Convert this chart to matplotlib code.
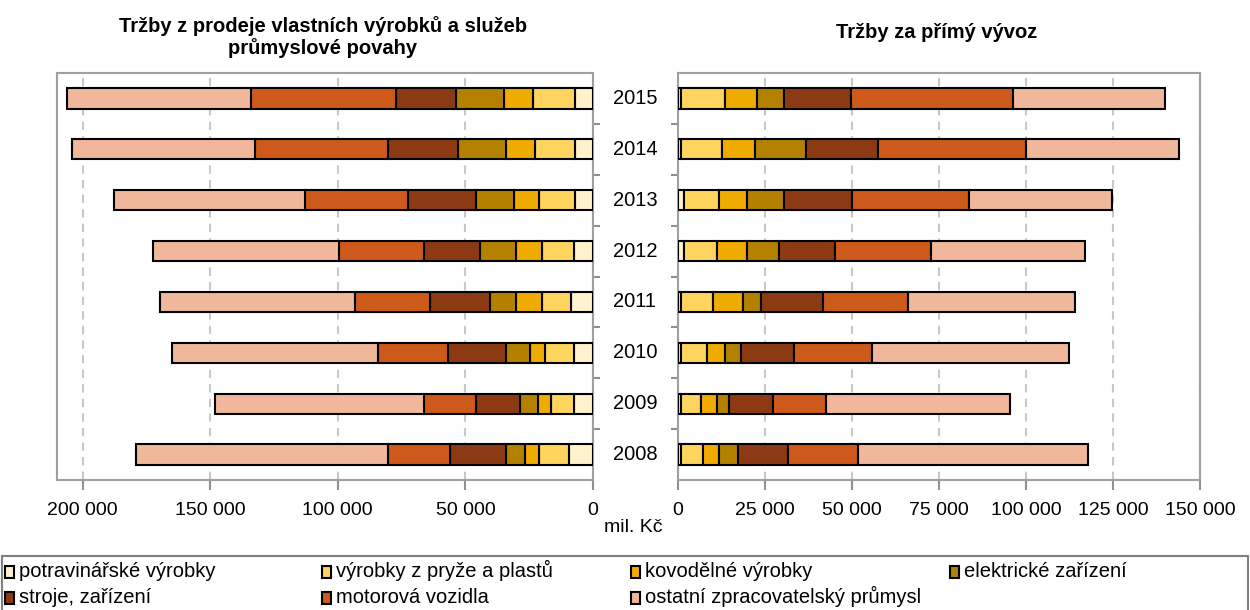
import matplotlib.pyplot as plt
from matplotlib.patches import Rectangle
from matplotlib.ticker import FuncFormatter
from matplotlib.transforms import blended_transform_factory

plt.rcParams['font.family'] = ['Liberation Sans', 'DejaVu Sans']

years = [2008, 2009, 2010, 2011, 2012, 2013, 2014, 2015]

series = ["potravinářské výrobky", "výrobky z pryže a plastů", "kovodělné výrobky",
          "elektrické zařízení", "stroje, zařízení", "motorová vozidla",
          "ostatní zpracovatelský průmysl"]
colors = ["#FFF2CC", "#FFD560", "#F0AB00", "#B38000", "#8B3A14", "#CD5A1A", "#F0B79A"]

# Tržby z prodeje vlastních výrobků a služeb průmyslové povahy (mil. Kč), 2008..2015
sales_food = [9230, 7570, 7570, 8520, 7570, 6860, 6860, 6860]
sales_rubber = [11760, 8720, 11090, 11520, 12470, 14130, 15670, 16490]
sales_metal = [5560, 5410, 6190, 10100, 10100, 9820, 11630, 11650]
sales_elec = [7730, 7060, 9430, 10260, 14120, 15110, 18820, 18650]
sales_mach = [21740, 17160, 22450, 23510, 21860, 26710, 27260, 23400]
sales_cars = [24220, 20200, 27380, 29470, 33490, 40170, 52160, 56750]
sales_other = [98960, 81980, 80990, 76420, 72690, 75000, 71700, 72400]

# Tržby za přímý vývoz (mil. Kč), 2008..2015
exp_food = [960, 960, 960, 960, 1710, 1710, 960, 960]
exp_rubber = [6350, 5770, 7480, 9130, 9630, 10120, 11820, 12490]
exp_metal = [4520, 4610, 5100, 8460, 8460, 7970, 9430, 9220]
exp_elec = [5270, 3360, 4520, 5280, 9130, 10760, 14610, 7890]
exp_mach = [14620, 12490, 15390, 17800, 16060, 19540, 20670, 19040]
exp_cars = [20000, 15400, 22300, 24320, 27690, 33540, 42580, 46650]
exp_other = [66070, 52870, 56730, 48270, 44410, 40960, 43950, 43750]

sales = [sales_food, sales_rubber, sales_metal, sales_elec, sales_mach, sales_cars, sales_other]
exports = [exp_food, exp_rubber, exp_metal, exp_elec, exp_mach, exp_cars, exp_other]

W, H = 1250, 610
fig = plt.figure(figsize=(W / 100, H / 100), dpi=100)
ax1 = fig.add_axes([57 / W, 1 - 480 / H, 536 / W, 407 / H])
ax2 = fig.add_axes([678 / W, 1 - 480 / H, 522 / W, 407 / H])

fmt = FuncFormatter(lambda v, p: f"{int(v):,}".replace(",", " "))
ypos = list(range(len(years)))


def draw(ax, data, xmax, step):
    left = [0] * len(years)
    for vals, c, name in zip(data, colors, series):
        ax.barh(ypos, vals, left=left, height=0.4, color=c, edgecolor="black",
                linewidth=1.5, label=name, zorder=3)
        left = [a + b for a, b in zip(left, vals)]
    ax.set_ylim(-0.5, len(years) - 0.5)
    ax.set_xticks(range(0, xmax + 1, step))
    ax.xaxis.set_major_formatter(fmt)
    ax.grid(axis="x", color="#C8C8C8", linestyle=(0, (4, 3)), linewidth=1.5, zorder=0)
    ax.set_yticks([i + 0.5 for i in range(len(years) - 1)])
    ax.set_yticklabels([])
    ax.tick_params(axis="both", colors="#909090", width=1.5, length=5, labelsize=14,
                   labelcolor="black")
    ax.tick_params(axis="x", pad=9, length=7)
    for s in ax.spines.values():
        s.set_color("#A0A0A0")
        s.set_linewidth(1.5)


draw(ax1, sales, 200000, 50000)
ax1.set_xlim(210000, 0)
ax1.yaxis.tick_right()

draw(ax2, exports, 150000, 25000)
ax2.set_xlim(0, 150000)

trans = blended_transform_factory(fig.transFigure, ax1.transData)
for i, y in enumerate(years):
    ax1.text(635 / W, i, str(y), transform=trans, ha="center", va="center",
             fontsize=14.5)

fig.text(323 / W, 1 - 37 / H, "Tržby z prodeje vlastních výrobků a služeb\nprůmyslové povahy",
         ha="center", va="center", fontsize=14.5, fontweight="bold", linespacing=1.15)
fig.text(937 / W, 1 - 32 / H, "Tržby za přímý vývoz", ha="center", va="center",
         fontsize=14.5, fontweight="bold")
fig.text(633 / W, 1 - 528 / H, "mil. Kč", ha="center", va="center", fontsize=14)

# legend drawn Excel-like: fixed columns, two rows
col_x = [5, 322, 631, 950]
row_y = [572, 598]
for k, name in enumerate(series):
    x = col_x[k % 4]
    y = row_y[k // 4]
    fig.add_artist(Rectangle((x / W, 1 - (y + 6) / H), 9 / W, 12 / H,
                             transform=fig.transFigure, facecolor=colors[k],
                             edgecolor="black", linewidth=1.5))
    fig.text((x + 14) / W, 1 - (y + 5) / H, name, ha="left", va="baseline",
             fontsize=14.5)
fig.add_artist(Rectangle((2 / W, -0.05), 1246 / W, 0.05 + 1 - 556 / H,
                         transform=fig.transFigure, fill=False, edgecolor="#808080",
                         linewidth=1.5))

fig.savefig("out.png", dpi=100)
